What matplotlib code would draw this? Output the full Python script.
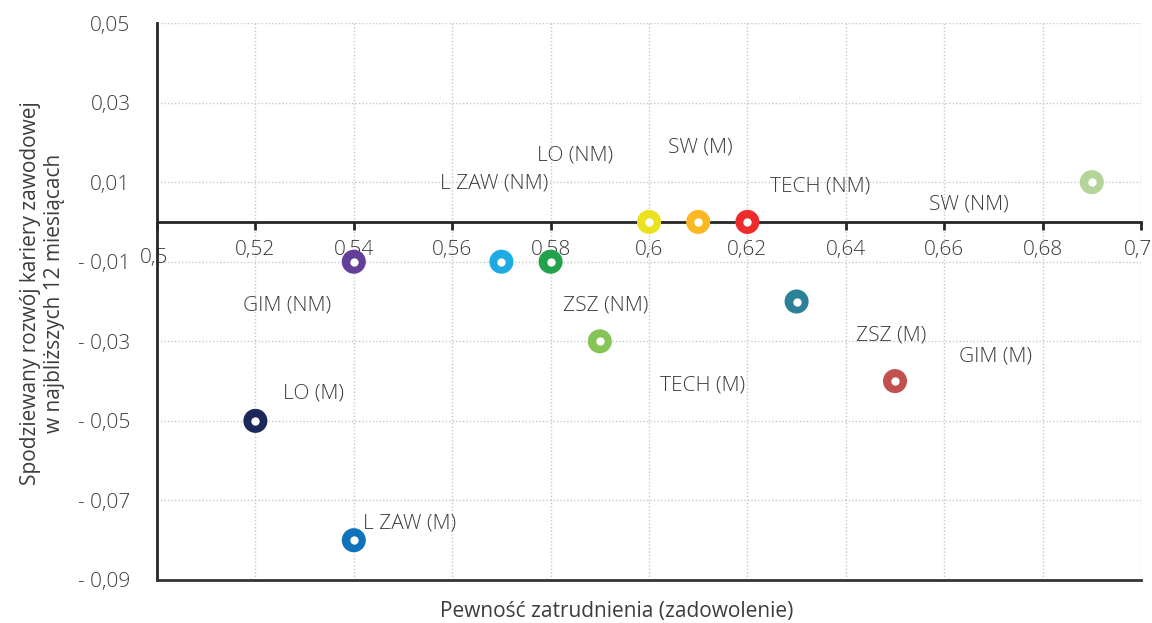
import matplotlib
matplotlib.use("Agg")
import matplotlib.pyplot as plt
import matplotlib.transforms as mtrans

# points
x_vals = [0.52, 0.54, 0.54, 0.57, 0.58, 0.59, 0.60, 0.61, 0.62, 0.63, 0.65, 0.69]
y_vals = [-0.05, -0.08, -0.01, -0.01, -0.01, -0.03, 0.0, 0.0, 0.0, -0.02, -0.04, 0.01]
colors = ['#1c2958', '#0f72ba', '#633f98', '#1eaae2', '#22a24c', '#86c456',
          '#ebe21e', '#fcb823', '#ee2a2a', '#2c8199', '#c0514e', '#b4d599']

# data labels (placed as in the original)
labels = ['LO (NM)', 'SW (M)', 'L ZAW (NM)', 'TECH (NM)', 'SW (NM)', 'GIM (NM)',
          'ZSZ (NM)', 'TECH (M)', 'ZSZ (M)', 'GIM (M)', 'LO (M)', 'L ZAW (M)']
label_x = [0.5772, 0.6039, 0.5575, 0.6245, 0.6570, 0.5175,
           0.5825, 0.6022, 0.6421, 0.6630, 0.5256, 0.5418]
label_y = [0.0166, 0.0188, 0.0096, 0.0088, 0.0043, -0.0209,
           -0.0211, -0.0410, -0.0286, -0.0337, -0.0432, -0.0757]

x_ticks = [0.5, 0.52, 0.54, 0.56, 0.58, 0.6, 0.62, 0.64, 0.66, 0.68, 0.7]
y_ticks = [0.05, 0.03, 0.01, -0.01, -0.03, -0.05, -0.07, -0.09]

txt = '#3c3c3c'
fs = 15


def fmt_x(v):
    s = ('%.2f' % v).rstrip('0').rstrip('.')
    return s.replace('.', ',')


def fmt_y(v):
    s = '%.2f' % abs(v)
    s = s.replace('.', ',')
    return ('- ' + s) if v < 0 else s


def main():
    plt.rcParams['font.family'] = ['Open Sans', 'DejaVu Sans']
    plt.rcParams['font.weight'] = 'light'
    fig = plt.figure(figsize=(11.52, 6.23), dpi=100)
    ax = fig.add_axes([157 / 1152, 1 - 580 / 623, 984 / 1152, 557 / 623])

    ax.set_xlim(0.5, 0.7)
    ax.set_ylim(-0.09, 0.05)

    # grid
    for xv in x_ticks[1:]:
        ax.axvline(xv, color='#c8c8c8', lw=1, ls=(0, (1, 1.5)), zorder=0)
    for yv in y_ticks:
        ax.axhline(yv, color='#c8c8c8', lw=1, ls=(0, (1, 1.5)), zorder=0)

    # axes lines
    for s in ['top', 'right']:
        ax.spines[s].set_visible(False)
    ax.spines['left'].set_color('#262626')
    ax.spines['left'].set_linewidth(2)
    ax.spines['bottom'].set_position(('data', 0))
    ax.spines['bottom'].set_color('#262626')
    ax.spines['bottom'].set_linewidth(2)
    ax.axhline(-0.09, color='#333333', lw=2, zorder=3, clip_on=False)

    ax.set_xticks(x_ticks)
    ax.set_xticklabels([fmt_x(v) for v in x_ticks])
    ax.set_yticks(y_ticks)
    ax.set_yticklabels([fmt_y(v) for v in y_ticks])
    ax.tick_params(axis='x', direction='out', length=6, width=2, color='#262626',
                   pad=7, labelsize=fs, labelcolor=txt)
    ax.tick_params(axis='y', length=0, pad=19, labelsize=fs, labelcolor=txt)
    # first x label sits lower and to the left
    first = ax.get_xticklabels()[0]
    first.set_transform(first.get_transform() + mtrans.ScaledTranslation(-0.03, -0.08, fig.dpi_scale_trans))
    last = ax.get_xticklabels()[-1]
    last.set_transform(last.get_transform() + mtrans.ScaledTranslation(-0.03, 0, fig.dpi_scale_trans))

    # markers: coloured ring with white centre
    ax.scatter(x_vals, y_vals, s=300, c=colors, zorder=4, linewidths=0, clip_on=False)
    ax.scatter(x_vals, y_vals, s=36, c='white', zorder=5, linewidths=0, clip_on=False)

    for t, lx, ly in zip(labels, label_x, label_y):
        ax.text(lx, ly, t, fontsize=fs, color=txt, ha='left', va='center', zorder=6)

    ax.set_xlabel('Pewność zatrudnienia (zadowolenie)', fontsize=fs, color=txt)
    ax.xaxis.set_label_coords(0.4675, -0.037)
    ax.set_ylabel('Spodziewany rozwój kariery zawodowej\nw najbliższych 12 miesiącach',
                  fontsize=fs, color=txt, linespacing=1.15)
    ax.yaxis.set_label_coords(-0.094, 0.515)

    fig.savefig('out.png', dpi=100)


if __name__ == "__main__":
    main()
